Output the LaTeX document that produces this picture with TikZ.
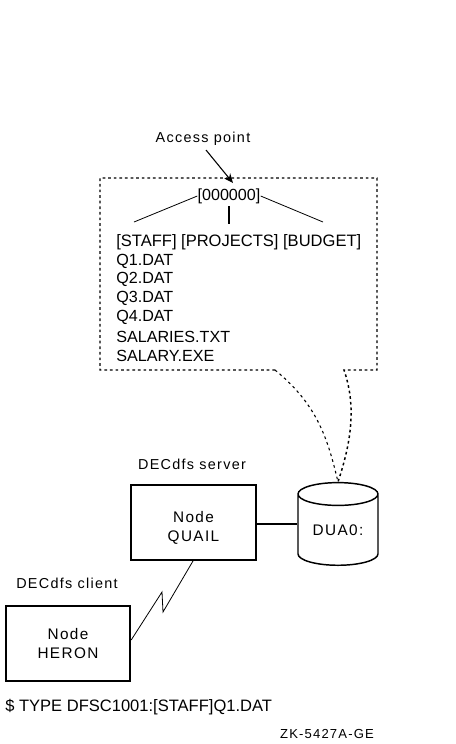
\documentclass[tikz,border=0pt]{standalone}
\usepackage{fontspec}
\setmainfont{Liberation Sans}
\usetikzlibrary{positioning,arrows.meta,shapes.geometric}
\newfontfamily\spaced[LetterSpace=9]{Liberation Sans}
\tikzset{
  nodebox/.style={draw, line width=1.3pt, minimum width=93.5pt, minimum height=56pt, align=center, font=\fontsize{11.5pt}{13.6pt}\spaced, execute at begin node=\rule{0pt}{15pt}},
  filelabel/.style={anchor=west, inner sep=0pt, font=\fontsize{12.1pt}{14pt}\selectfont},
  caption/.style={inner sep=0pt, font=\fontsize{10.8pt}{13pt}\spaced},
  dotline/.style={line width=1.1pt, dash pattern=on 2pt off 2.2pt},
}
\begin{document}
\begin{tikzpicture}[x=0.75pt, y=-0.75pt, node distance=14.2pt, >={Stealth[length=7pt,width=6pt]}]
\useasboundingbox (0,0) rectangle (455,744);
\node[caption] (access) at (203,138.5) {Access point};
\node[filelabel, anchor=center] (root) at (229,196) {[000000]};
\coordinate (left) at (134,222);
\coordinate (mid) at (229,224);
\coordinate (right) at (323,222);
\coordinate (tip) at (233,183);
\node[filelabel, font=\fontsize{12.4pt}{14pt}\selectfont] (dirs) at (116,242) {[STAFF] [PROJECTS] [BUDGET]};
\node[filelabel] (q1) [below=of dirs.west, anchor=west] {Q1.DAT};
\node[filelabel] (q2) [below=of q1.west, anchor=west] {Q2.DAT};
\node[filelabel] (q3) [below=of q2.west, anchor=west] {Q3.DAT};
\node[filelabel] (q4) [below=of q3.west, anchor=west] {Q4.DAT};
\node[filelabel] (sal) [below=of q4.west, anchor=west] {SALARIES.TXT};
\node[filelabel] (exe) [below=of sal.west, anchor=west] {SALARY.EXE};
\node[caption] (server) at (192,464) {DECdfs server};
\node[nodebox] (quail) at (193.5,522.5) {\rule{0pt}{16.5pt}Node\\QUAIL};
\node[draw, line width=1.1pt, shape=cylinder, shape border rotate=90, shape aspect=0.45, minimum width=60pt, minimum height=62pt, inner sep=0pt, font=\fontsize{11.5pt}{13pt}\spaced] (disk) at (338,530) {DUA0:};
\node[caption] (client) at (67,583) {DECdfs client};
\node[nodebox] (heron) at (68,643.5) {Node\\HERON};
\node[filelabel, font=\fontsize{12.4pt}{14pt}\selectfont] (cmd) at (5,707) {\$ TYPE DFSC1001:[STAFF]Q1.DAT};
\node[caption, font=\fontsize{9.8pt}{11pt}\spaced] (fig) at (327,734) {ZK-5427A-GE};
\draw[->, line width=0.8pt] (206,150) -- (tip);
\draw[line width=0.6pt] (root.west) -- (left);
\draw[line width=0.6pt] (root.east) -- (right);
\draw[line width=1.1pt] (229,206) -- (mid);
% callout round the listing
\coordinate (apex) at (disk.north);
\draw[dotline] (275,370) -- (100,370) -- (100,178) -- (377,178) -- (377,370) -- (344,370) .. controls (356,405) and (352,440) .. (apex);
\draw[line width=0.8pt, dash pattern=on 2pt off 2.5pt] (275,370) .. controls (318,405) and (328,440) .. (apex);
\draw[line width=1.1pt] (quail.east |- 0,524) -- (disk.west |- 0,524);
\coordinate (kink1) at (163,612);
\coordinate (kink2) at (162,592);
\draw[line width=0.6pt] (193,561) -- (kink1) -- (kink2) -- (heron.east |- 0,640);
\end{tikzpicture}
\end{document}
